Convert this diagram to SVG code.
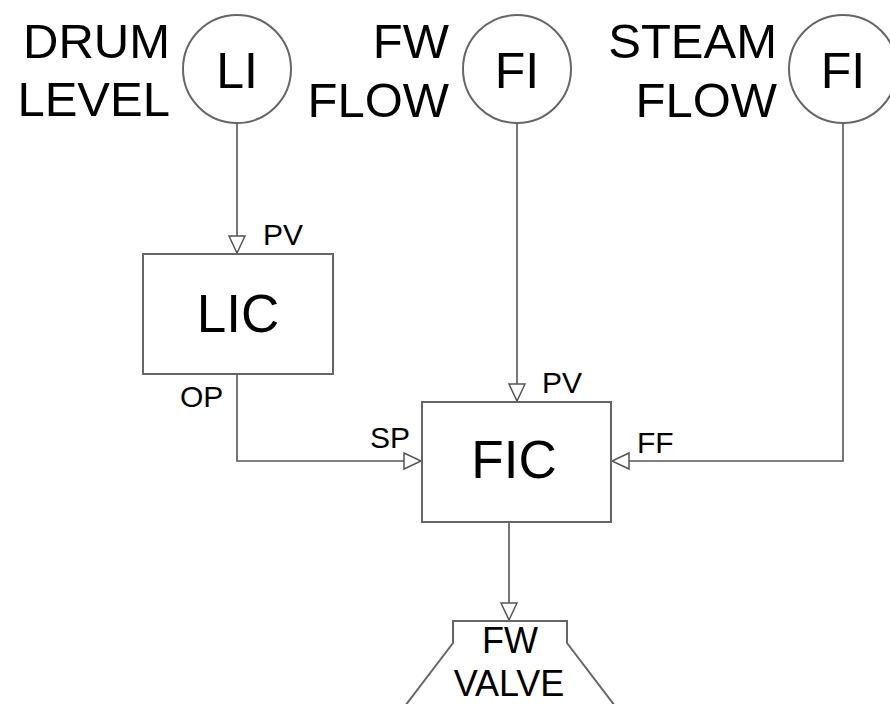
<svg xmlns="http://www.w3.org/2000/svg" width="890" height="704" viewBox="0 0 890 704">
<defs>
<style>
text{font-family:"Liberation Sans",Arial,sans-serif;fill:#000}
.big{font-size:49px;text-anchor:end}
.tag{font-size:50px;text-anchor:middle}
.ctl{font-size:53px;text-anchor:middle}
.port{font-size:30px}
.vlv{font-size:36px;text-anchor:middle}
.inst{fill:#fff;stroke:#666;stroke-width:2}
.box{fill:#fff;stroke:#666;stroke-width:2}
.wire{fill:none;stroke:#555;stroke-width:1.6}
</style>
<marker id="arr" markerUnits="userSpaceOnUse" markerWidth="20" markerHeight="20" viewBox="0 0 20 20" refX="18" refY="10" orient="auto">
<path d="M1,2 L18,10 L1,18 Z" fill="#fff" stroke="#555" stroke-width="1.5"/>
</marker>
</defs>
<rect width="890" height="704" fill="#fff"/>
<g id="connectors">
<path class="wire" d="M237,124 V253" marker-end="url(#arr)"/>
<path class="wire" d="M517,124 V401" marker-end="url(#arr)"/>
<path class="wire" d="M237,374 V461 H421" marker-end="url(#arr)"/>
<path class="wire" d="M843,124 V461 H612" marker-end="url(#arr)"/>
<path class="wire" d="M509,522 V620" marker-end="url(#arr)"/>
</g>
<g id="drum-level">
<text class="big" x="170" y="58">DRUM</text>
<text class="big" x="170" y="116">LEVEL</text>
</g>
<g id="LI">
<circle class="inst" cx="237" cy="69" r="54"/>
<text class="tag" x="237" y="88">LI</text>
</g>
<g id="fw-flow">
<text class="big" x="449" y="58">FW</text>
<text class="big" x="449" y="117">FLOW</text>
</g>
<g id="FI-fw">
<circle class="inst" cx="517" cy="69" r="54"/>
<text class="tag" x="517" y="88">FI</text>
</g>
<g id="steam-flow">
<text class="big" x="777" y="58">STEAM</text>
<text class="big" x="777" y="117">FLOW</text>
</g>
<g id="FI-steam">
<circle class="inst" cx="843" cy="69" r="54"/>
<text class="tag" x="843" y="88">FI</text>
</g>
<g id="LIC">
<rect class="box" x="143" y="254" width="190" height="120"/>
<text class="ctl" x="238" y="332">LIC</text>
<text class="port" x="263" y="245">PV</text>
<text class="port" x="180" y="407">OP</text>
</g>
<g id="FIC">
<rect class="box" x="422" y="402" width="189" height="120"/>
<text class="ctl" x="514" y="478">FIC</text>
<text class="port" x="542" y="393">PV</text>
<text class="port" x="370" y="448">SP</text>
<text class="port" x="637" y="453">FF</text>
</g>
<g id="FW-valve">
<path class="box" d="M405,706 L453,643 V621 H567 V643 L615,706"/>
<text class="vlv" x="510" y="653">FW</text>
<text class="vlv" x="509" y="696">VALVE</text>
</g>
</svg>
